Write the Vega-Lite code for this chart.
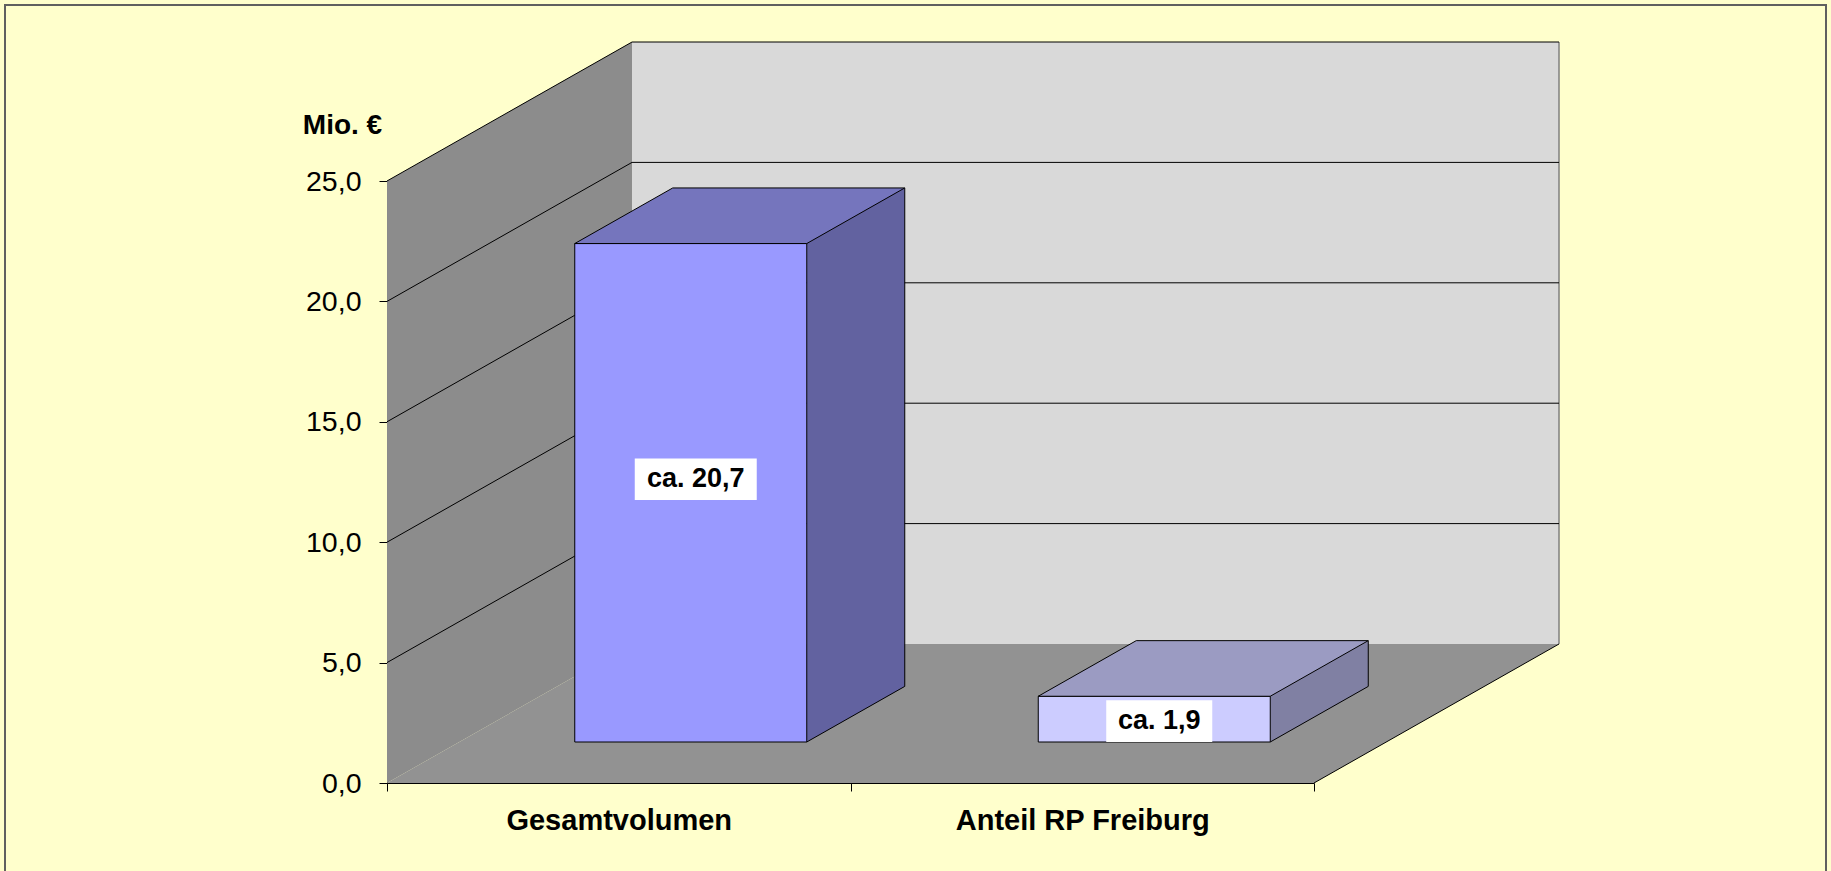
{
  "$schema": "https://vega.github.io/schema/vega-lite/v6.json",
  "width": 927,
  "height": 602,
  "autosize": {"type": "none"},
  "padding": {"left": 387, "top": 181, "right": 517, "bottom": 88},
  "background": "#FFFFCC",
  "config": {
    "view": {"stroke": null},
    "axisX": {"tickBand": "extent", "tickSize": 8, "tickColor": "black", "domainColor": "black", "domainWidth": 1, "labelFont": "Liberation Sans", "labelFontSize": 29, "labelFontWeight": "bold", "labelColor": "black", "labelPadding": 15, "labelAngle": 0, "labelBaseline": "top", "labelLimit": 600, "zindex": 1, "grid": false},
    "axisY": {"grid": false, "domainColor": "black", "domainWidth": 1, "tickColor": "black", "tickSize": 8, "labelFont": "Liberation Sans", "labelFontSize": 28.5, "labelColor": "black", "labelPadding": 18, "titleFont": "Liberation Sans", "titleFontSize": 28, "titleFontWeight": "bold", "titleColor": "black", "titleAngle": 0, "titleX": -45, "titleY": -48, "titleAlign": "center", "titleBaseline": "alphabetic", "zindex": 1}
  },
  "datasets": {
    "bars": [
      {"cat": "Gesamtvolumen", "value": 20.7, "label": "ca. 20,7"},
      {"cat": "Anteil RP Freiburg", "value": 1.9, "label": "ca. 1,9"}
    ],
    "grid": [{"v": 5}, {"v": 10}, {"v": 15}, {"v": 20}, {"v": 25}],
    "one": [{"k": 1}]
  },
  "layer": [
    {
      "layer": [
        {
          "data": {"name": "one"},
          "mark": {"type": "point", "shape": "M-1,-0.48105L1,-0.48105L1,0.48105L-1,0.48105Z", "size": 3316041, "filled": false, "stroke": "#606060", "strokeWidth": 2, "opacity": 1, "xOffset": 296.75, "yOffset": -340},
          "encoding": {
            "x": {"datum": "Gesamtvolumen", "type": "nominal", "scale": {"type": "band", "domain": ["Gesamtvolumen", "Anteil RP Freiburg"], "paddingInner": 0, "paddingOuter": 0}, "axis": {"title": null, "orient": "bottom"}},
            "y": {"datum": 0, "type": "quantitative", "scale": {"domain": [0, 25], "nice": false}, "axis": {"title": "Mio. €", "values": [0, 5, 10, 15, 20, 25], "labelExpr": "replace(format(datum.value, '.1f'), '.', ',')"}}
          }
        },
        {
          "data": {"name": "one"},
          "mark": {"type": "point", "shape": "M-0.3306,-0.6248L0.3306,-1L0.3306,0.6248L-0.3306,1Z", "size": 549081, "filled": true, "fill": "#8C8C8C", "strokeWidth": 0, "opacity": 1, "xOffset": -109.25, "yOffset": -370.5},
          "encoding": {
            "x": {"datum": "Gesamtvolumen", "type": "nominal", "axis": {"title": null, "orient": "bottom"}},
            "y": {"datum": 0, "type": "quantitative", "axis": {"title": "Mio. €", "values": [0, 5, 10, 15, 20, 25], "labelExpr": "replace(format(datum.value, '.1f'), '.', ',')"}}
          }
        },
        {
          "data": {"name": "one"},
          "mark": {"type": "point", "shape": "M-1,-0.6494L1,-0.6494L1,0.6494L-1,0.6494Z", "size": 859329, "filled": true, "fill": "#D9D9D9", "strokeWidth": 0, "opacity": 1, "xOffset": 476.75, "yOffset": -440},
          "encoding": {
            "x": {"datum": "Gesamtvolumen", "type": "nominal", "axis": {"title": null, "orient": "bottom"}},
            "y": {"datum": 0, "type": "quantitative", "axis": {"title": "Mio. €", "values": [0, 5, 10, 15, 20, 25], "labelExpr": "replace(format(datum.value, '.1f'), '.', ',')"}}
          }
        },
        {
          "data": {"name": "one"},
          "mark": {"type": "point", "shape": "M-1,0.1186L0.5819,0.1186L1,-0.1186L-0.5819,-0.1186Z", "size": 1373584, "filled": true, "fill": "#929292", "strokeWidth": 0, "opacity": 1, "xOffset": 354.25, "yOffset": -69.5},
          "encoding": {
            "x": {"datum": "Gesamtvolumen", "type": "nominal", "axis": {"title": null, "orient": "bottom"}},
            "y": {"datum": 0, "type": "quantitative", "axis": {"title": "Mio. €", "values": [0, 5, 10, 15, 20, 25], "labelExpr": "replace(format(datum.value, '.1f'), '.', ',')"}}
          }
        },
        {
          "data": {"name": "one"},
          "mark": {"type": "point", "shape": "M0,-1L0,1", "size": 362404, "filled": false, "stroke": "#7F7F7F", "strokeWidth": 1.5, "opacity": 1, "xOffset": 940.25, "yOffset": -440},
          "encoding": {
            "x": {"datum": "Gesamtvolumen", "type": "nominal", "axis": {"title": null, "orient": "bottom"}},
            "y": {"datum": 0, "type": "quantitative", "axis": {"title": "Mio. €", "values": [0, 5, 10, 15, 20, 25], "labelExpr": "replace(format(datum.value, '.1f'), '.', ',')"}}
          }
        },
        {
          "data": {"name": "grid"},
          "mark": {"type": "point", "shape": "M-1,0L1,0", "size": 859329, "filled": false, "stroke": "black", "strokeWidth": 1, "opacity": 1, "xOffset": 476.75, "yOffset": -139},
          "encoding": {
            "x": {"datum": "Gesamtvolumen", "type": "nominal", "axis": {"title": null, "orient": "bottom"}},
            "y": {"field": "v", "type": "quantitative", "axis": {"title": "Mio. €", "values": [0, 5, 10, 15, 20, 25], "labelExpr": "replace(format(datum.value, '.1f'), '.', ',')"}}
          }
        },
        {
          "data": {"name": "grid"},
          "mark": {"type": "point", "shape": "M-1,0.5673L1,-0.5673", "size": 60025, "filled": false, "stroke": "black", "strokeWidth": 1, "opacity": 1, "xOffset": -109.25, "yOffset": -69.5},
          "encoding": {
            "x": {"datum": "Gesamtvolumen", "type": "nominal", "axis": {"title": null, "orient": "bottom"}},
            "y": {"field": "v", "type": "quantitative", "axis": {"title": "Mio. €", "values": [0, 5, 10, 15, 20, 25], "labelExpr": "replace(format(datum.value, '.1f'), '.', ',')"}}
          }
        },
        {
          "data": {"name": "one"},
          "mark": {"type": "point", "shape": "M-1,0.5673L1,-0.5673", "size": 60025, "filled": false, "stroke": "black", "strokeWidth": 1, "opacity": 1, "xOffset": 817.75, "yOffset": -69.5},
          "encoding": {
            "x": {"datum": "Gesamtvolumen", "type": "nominal", "axis": {"title": null, "orient": "bottom"}},
            "y": {"datum": 0, "type": "quantitative", "axis": {"title": "Mio. €", "values": [0, 5, 10, 15, 20, 25], "labelExpr": "replace(format(datum.value, '.1f'), '.', ',')"}}
          }
        },
        {
          "data": {"name": "bars"},
          "mark": {"type": "bar", "width": 98, "strokeWidth": 0, "xOffset": 237, "x2Offset": 237, "yOffset": -96.6, "y2Offset": -41},
          "encoding": {
            "x": {"field": "cat", "type": "nominal", "axis": {"title": null, "orient": "bottom"}},
            "y": {"field": "value", "type": "quantitative", "stack": null, "axis": {"title": "Mio. €", "values": [0, 5, 10, 15, 20, 25], "labelExpr": "replace(format(datum.value, '.1f'), '.', ',')"}},
            "y2": {"datum": 0},
            "fill": {"condition": {"test": "datum.cat === 'Gesamtvolumen'", "value": "#6262A0"}, "value": "#8080A3"}
          }
        },
        {
          "data": {"name": "bars"},
          "mark": {"type": "point", "shape": "M-1,0.5673L1,-0.5673L1.03,-0.5673L1.03,0.6L-1,0.6Z", "size": 9604, "filled": true, "fill": "#929292", "strokeWidth": 0, "opacity": 1, "xOffset": 237, "yOffset": -68.8},
          "encoding": {
            "x": {"field": "cat", "type": "nominal", "axis": {"title": null, "orient": "bottom"}},
            "y": {"datum": 0, "type": "quantitative", "axis": {"title": "Mio. €", "values": [0, 5, 10, 15, 20, 25], "labelExpr": "replace(format(datum.value, '.1f'), '.', ',')"}}
          }
        },
        {
          "data": {"name": "bars"},
          "mark": {"type": "point", "shape": "M-1,0.5673L1,-0.5673", "size": 9604, "filled": false, "stroke": "black", "strokeWidth": 1, "opacity": 1, "xOffset": 237, "yOffset": -68.8},
          "encoding": {
            "x": {"field": "cat", "type": "nominal", "axis": {"title": null, "orient": "bottom"}},
            "y": {"datum": 0, "type": "quantitative", "axis": {"title": "Mio. €", "values": [0, 5, 10, 15, 20, 25], "labelExpr": "replace(format(datum.value, '.1f'), '.', ',')"}}
          }
        },
        {
          "data": {"name": "bars"},
          "mark": {"type": "rule", "stroke": "black", "strokeWidth": 1, "xOffset": 286, "yOffset": -96.6, "y2Offset": -96.6},
          "encoding": {
            "x": {"field": "cat", "type": "nominal", "axis": {"title": null, "orient": "bottom"}},
            "y": {"field": "value", "type": "quantitative", "axis": {"title": "Mio. €", "values": [0, 5, 10, 15, 20, 25], "labelExpr": "replace(format(datum.value, '.1f'), '.', ',')"}},
            "y2": {"datum": 0}
          }
        },
        {
          "data": {"name": "bars"},
          "mark": {"type": "bar", "width": 232, "stroke": "black", "strokeWidth": 1, "xOffset": 72, "x2Offset": 72, "yOffset": -41, "y2Offset": -41},
          "encoding": {
            "x": {"field": "cat", "type": "nominal", "axis": {"title": null, "orient": "bottom"}},
            "y": {"field": "value", "type": "quantitative", "stack": null, "axis": {"title": "Mio. €", "values": [0, 5, 10, 15, 20, 25], "labelExpr": "replace(format(datum.value, '.1f'), '.', ',')"}},
            "y2": {"datum": 0},
            "fill": {"condition": {"test": "datum.cat === 'Gesamtvolumen'", "value": "#9999FF"}, "value": "#CCCCFF"}
          }
        },
        {
          "data": {"name": "bars"},
          "mark": {"type": "point", "shape": "M-1,0.1685L0.4061,0.1685L1,-0.1685L-0.4061,-0.1685Z", "size": 108900, "filled": true, "stroke": "black", "strokeWidth": 1, "opacity": 1, "xOffset": 121, "yOffset": -68.8},
          "encoding": {
            "x": {"field": "cat", "type": "nominal", "axis": {"title": null, "orient": "bottom"}},
            "y": {"field": "value", "type": "quantitative", "axis": {"title": "Mio. €", "values": [0, 5, 10, 15, 20, 25], "labelExpr": "replace(format(datum.value, '.1f'), '.', ',')"}},
            "fill": {"condition": {"test": "datum.cat === 'Gesamtvolumen'", "value": "#7575BD"}, "value": "#9B9BC2"}
          }
        }
      ]
    },
    {
      "data": {"name": "bars"},
      "layer": [
        {
          "mark": {"type": "point", "size": 14884, "filled": true, "fill": "white", "strokeWidth": 0, "opacity": 1, "xOffset": 77, "yOffset": -37.5},
          "encoding": {
            "x": {"field": "cat", "type": "nominal", "axis": {"title": null, "orient": "bottom"}},
            "y": {"field": "value", "type": "quantitative", "scale": {"domain": [0, 46.8], "nice": false}, "axis": null},
            "shape": {"condition": {"test": "datum.cat === 'Gesamtvolumen'", "value": "M-1,-0.3418L1,-0.3418L1,0.3418L-1,0.3418Z"}, "value": "M-0.8689,-0.3418L0.8689,-0.3418L0.8689,0.3418L-0.8689,0.3418Z"}
          }
        },
        {
          "mark": {"type": "text", "font": "Liberation Sans", "fontSize": 27, "fontWeight": "bold", "color": "black", "align": "center", "baseline": "middle", "xOffset": 77, "yOffset": -37.5},
          "encoding": {
            "x": {"field": "cat", "type": "nominal", "axis": {"title": null, "orient": "bottom"}},
            "y": {"field": "value", "type": "quantitative", "scale": {"domain": [0, 46.8], "nice": false}, "axis": null},
            "text": {"field": "label"}
          }
        }
      ]
    }
  ],
  "resolve": {"scale": {"y": "independent"}}
}
